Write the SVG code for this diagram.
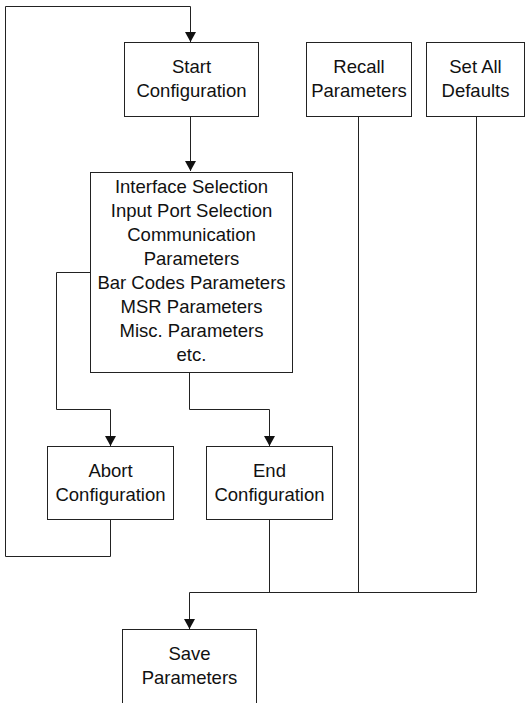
<svg xmlns="http://www.w3.org/2000/svg" width="525" height="703" viewBox="0 0 525 703">
<style>
.box{fill:#fff;stroke:#222;stroke-width:1}
.t{font-family:"Liberation Sans",Arial,sans-serif;font-size:18.5px;fill:#111;text-anchor:middle}
.c{fill:none;stroke:#222;stroke-width:1}
</style>
<defs>
<marker id="ah" markerWidth="11" markerHeight="11" refX="10" refY="5.5" orient="auto" markerUnits="userSpaceOnUse">
<path d="M0,0 L10,5.5 L0,11 Z" fill="#111"/>
</marker>
</defs>
<rect width="525" height="703" fill="#fff"/>
<g id="connectors">
<path class="c" d="M110.5,519 V556.5 H5.5 V6.5 H190.5 V42" marker-end="url(#ah)"/>
<path class="c" d="M190.5,116 V171" marker-end="url(#ah)"/>
<path class="c" d="M90,272.5 H56.5 V409.5 H110.5 V446" marker-end="url(#ah)"/>
<path class="c" d="M189.5,373 V409.5 H269.5 V446" marker-end="url(#ah)"/>
<path class="c" d="M269.5,519 V592.5"/>
<path class="c" d="M358.5,116 V592.5"/>
<path class="c" d="M476.5,116 V592.5 H189.5 V629" marker-end="url(#ah)"/>
</g>
<g id="start"><rect class="box" x="124.5" y="42.5" width="134" height="74"/><text class="t" x="191.5" y="73">Start</text><text class="t" x="191.5" y="97">Configuration</text></g>
<g id="recall"><rect class="box" x="306.5" y="42.5" width="105" height="74"/><text class="t" x="359" y="73">Recall</text><text class="t" x="359" y="97">Parameters</text></g>
<g id="defaults"><rect class="box" x="426.5" y="42.5" width="98" height="74"/><text class="t" x="475.5" y="73">Set All</text><text class="t" x="475.5" y="97">Defaults</text></g>
<g id="params"><rect class="box" x="90.5" y="172.5" width="202" height="200"/>
<text class="t" x="191.5" y="193">Interface Selection</text>
<text class="t" x="191.5" y="217">Input Port Selection</text>
<text class="t" x="191.5" y="241">Communication</text>
<text class="t" x="191.5" y="265">Parameters</text>
<text class="t" x="191.5" y="289">Bar Codes Parameters</text>
<text class="t" x="191.5" y="313">MSR Parameters</text>
<text class="t" x="191.5" y="337">Misc. Parameters</text>
<text class="t" x="191.5" y="361">etc.</text></g>
<g id="abort"><rect class="box" x="47.5" y="446.5" width="126" height="73"/><text class="t" x="110.5" y="477">Abort</text><text class="t" x="110.5" y="501">Configuration</text></g>
<g id="end"><rect class="box" x="206.5" y="446.5" width="126" height="73"/><text class="t" x="269.5" y="477">End</text><text class="t" x="269.5" y="501">Configuration</text></g>
<g id="save"><rect class="box" x="122.5" y="629.5" width="134" height="74"/><text class="t" x="189.5" y="660">Save</text><text class="t" x="189.5" y="684">Parameters</text></g>
</svg>
